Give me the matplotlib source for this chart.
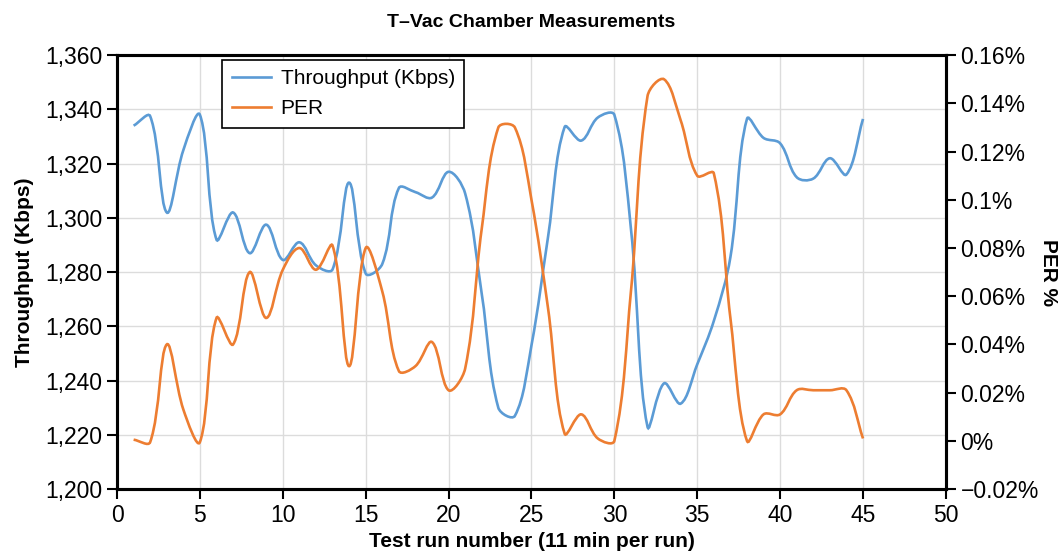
import matplotlib
matplotlib.use("Agg")
import matplotlib.pyplot as plt
import numpy as np
from matplotlib.path import Path
from matplotlib.patches import PathPatch
from matplotlib.lines import Line2D
from matplotlib.ticker import FuncFormatter, MultipleLocator

plt.rcParams["font.family"] = ["Liberation Sans", "DejaVu Sans"]

runs = list(range(1, 46))
throughput = [1334, 1337.5, 1302, 1325, 1338, 1292, 1302, 1287, 1297.5, 1284.5,
              1291, 1282.5, 1281, 1313, 1279.5, 1283, 1311, 1309.5, 1307.5, 1317,
              1309, 1272, 1230, 1227, 1253, 1293, 1333.5, 1328.5, 1337, 1338,
              1296, 1223, 1239, 1231.5, 1246, 1262, 1285.5, 1336.5, 1329.5, 1327.5,
              1315, 1314.5, 1322, 1316, 1336.5]
per = [0.0005, -0.0005, 0.04, 0.013, -0.0005, 0.051, 0.04, 0.07, 0.051, 0.071,
       0.08, 0.071, 0.081, 0.031, 0.08, 0.062, 0.029, 0.031, 0.041, 0.021,
       0.03, 0.088, 0.13, 0.13, 0.1, 0.055, 0.003, 0.011, 0.001, 0.0,
       0.062, 0.143, 0.15, 0.133, 0.11, 0.111, 0.051, 0.0, 0.011, 0.011,
       0.021, 0.021, 0.021, 0.021, 0.001]

BLUE = "#5b9bd5"
ORANGE = "#ed7d31"


def smooth_path(axis, x, y, t=0.36):
    # bezier "smoothed line": tangents scaled by neighbouring segment lengths on screen
    pts = axis.transData.transform(np.column_stack([x, y]))
    n = len(pts)
    verts = [pts[0]]
    codes = [Path.MOVETO]
    d = np.hypot(*np.diff(pts, axis=0).T)
    for i in range(n - 1):
        p1, p2 = pts[i], pts[i + 1]
        if i == 0:
            c1 = p1 + (p2 - p1) * t
        else:
            tan = p2 - pts[i - 1]
            c1 = p1 + tan * t * d[i] / (d[i - 1] + d[i])
        if i + 2 >= n:
            c2 = p2 - (p2 - p1) * t
        else:
            tan = pts[i + 2] - p1
            c2 = p2 - tan * t * d[i] / (d[i] + d[i + 1])
        verts += [c1, c2, p2]
        codes += [Path.CURVE4] * 3
    verts = axis.transData.inverted().transform(np.array(verts))
    return Path(verts, codes)


fig = plt.figure(figsize=(10.64, 5.52), dpi=100)
ax = fig.add_axes([0.110, 0.114, 0.779, 0.786])
ax2 = ax.twinx()

ax.set_xlim(0, 50)
ax.set_ylim(1200, 1360)
ax2.set_ylim(-0.02, 0.16)

ax.add_patch(PathPatch(smooth_path(ax, runs, throughput), fill=False, edgecolor=BLUE, lw=1.9, zorder=3))
ax2.add_patch(PathPatch(smooth_path(ax2, runs, per), fill=False, edgecolor=ORANGE, lw=1.9, zorder=3))

ax.xaxis.set_major_locator(MultipleLocator(5))
ax.yaxis.set_major_locator(MultipleLocator(20))
ax2.yaxis.set_major_locator(MultipleLocator(0.02))
ax.yaxis.set_major_formatter(FuncFormatter(lambda v, p: f"{v:,.0f}"))


def pct(v, p):
    s = f"{round(v, 4):g}%"
    return s.replace("-", "\u2212")


ax2.yaxis.set_major_formatter(FuncFormatter(pct))

ax.grid(True, color="#dcdcdc", lw=1.0)
ax.set_axisbelow(True)
for a in (ax, ax2):
    for s in a.spines.values():
        s.set_linewidth(2.2)
    a.tick_params(labelsize=16.5, width=1.5, length=7, direction="out")

ax.set_title("T\u2013Vac Chamber Measurements", fontsize=14, fontweight="bold", pad=20)
ax.set_xlabel("Test run number (11 min per run)", fontsize=15, fontweight="bold", labelpad=4)
ax.set_ylabel("Throughput (Kbps)", fontsize=15, fontweight="bold", labelpad=8)
ax2.set_ylabel("PER %", fontsize=15, fontweight="bold", rotation=-90, labelpad=14)

handles = [Line2D([], [], color=BLUE, lw=1.9), Line2D([], [], color=ORANGE, lw=1.9)]
leg = ax.legend(handles, ["Throughput (Kbps)", "PER"], loc="upper left",
                bbox_to_anchor=(0.127, 0.99), borderaxespad=0, fontsize=15,
                fancybox=False, framealpha=1, edgecolor="black", handlelength=1.9,
                borderpad=0.45, labelspacing=0.55, handletextpad=0.45)
leg.get_frame().set_linewidth(1.2)

fig.savefig("out.png", dpi=100)
